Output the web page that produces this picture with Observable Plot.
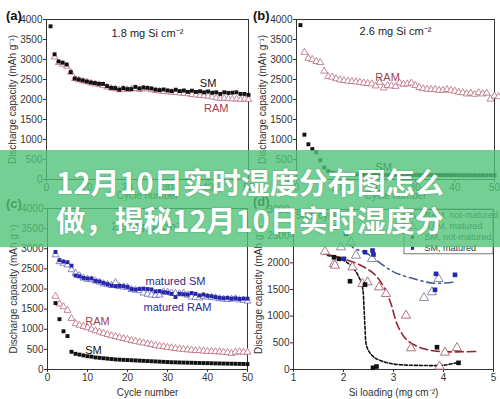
<!DOCTYPE html>
<html>
<head>
<meta charset="utf-8">
<script src="https://cdn.jsdelivr.net/npm/d3@7"></script>
<script src="https://cdn.jsdelivr.net/npm/@observablehq/plot@0.6"></script>
<style>
  html, body { margin: 0; padding: 0; background: #fff; }
  #wrap { position: relative; width: 500px; height: 399px; overflow: hidden; background: #fff; }
  .panel { position: absolute; }
  .tag { position: absolute; font: bold 13px "Liberation Sans", Arial, sans-serif; color: #111; }
  #banner { position: absolute; left: 0; top: 150px; width: 500px; height: 97px;
    background: rgba(80,195,120,0.8); color: #fff; text-align: center;
    font-family: "Noto Sans CJK SC", sans-serif; font-weight: 700; font-size: 29px; line-height: 38px;
    padding-top: 12px; box-sizing: border-box; text-shadow: 0 0 2px rgba(0,0,0,0.25); }
</style>
</head>
<body>
<div id="wrap"></div>
<script>
// ---------- data ----------
const yLabel = "Discharge capacity (mAh g⁻¹)";
const cycleTicks = [0, 10, 20, 30, 40, 50];
const capTicks = [0, 500, 1000, 1500, 2000, 2500, 3000, 3500, 4000];

// panel a (1.8 mg Si cm-2), SM from cycle 1, RAM from cycle 2
const aSM = [3830, 3130, 2950, 2920, 2875, 2685, 2525, 2500, 2475, 2450, 2425, 2410, 2390, 2390, 2335,
  2290, 2285, 2245, 2285, 2260, 2260, 2315, 2275, 2300, 2290, 2275, 2245, 2235, 2250, 2225,
  2210, 2245, 2210, 2225, 2190, 2220, 2190, 2205, 2180, 2200, 2170, 2180, 2140, 2180, 2165,
  2170, 2180, 2140, 2140, 2115];
const aRAM = [3060, 2920, 2880, 2830, 2680, 2520, 2490, 2460, 2440, 2410, 2390, 2370, 2350, 2310,
  2280, 2270, 2240, 2260, 2250, 2260, 2270, 2250, 2270, 2260, 2240, 2220, 2210, 2200, 2190,
  2180, 2170, 2160, 2150, 2140, 2120, 2110, 2100, 2090, 2080, 2060, 2040, 2020, 2030, 2020,
  2010, 2010, 2000, 2010, 2000];

// panel b (2.6 mg Si cm-2)
const bSM = [3860, 1120, 880, 760, 680, 480, 300, 210, 170, 150, 140, 135, 130, 130, 125,
  125, 120, 120, 120, 118, 118, 116, 116, 115, 115, 114, 114, 113, 113, 112,
  112, 112, 111, 111, 110, 110, 110, 110, 109, 109, 108, 108, 108, 108, 107,
  107, 107, 106, 106, 106];
const bRAM = [3180, 3030, 3000, 2950, 2925, 2710, 2575, 2560, 2520, 2490, 2475, 2460, 2450, 2440,
  2430, 2410, 2400, 2390, 2340, 2430, 2290, 2350, 2340, 2330, 2420, 2380, 2390, 2410, 2350,
  2300, 2270, 2260, 2250, 2250, 2230, 2230, 2250, 2230, 2210, 2180, 2170, 2140, 2160, 2130,
  2170, 2140, 2160, 2010, 2090, 2070];

// panel c (cycles from 2)
const cMatSM = [2920, 2715, 2680, 2665, 2580, 2335, 2315, 2275, 2260, 2260, 2200, 2185, 2150, 2120,
  2085, 2070, 2075, 2070, 2050, 2000, 1985, 2000, 2010, 2000, 1990, 1940, 1950, 1920, 1910,
  1880, 1800, 1880, 1870, 1860, 1900, 1880, 1840, 1860, 1830, 1820, 1800, 1780, 1770, 1780,
  1760, 1770, 1750, 1760, 1760];
const cMatRAM = [2850, 2680, 2640, 2600, 2480, 2390, 2330, 2270, 2240, 2230, 2200, 2170, 2130, 2110,
  2090, 2160, 2060, 2050, 2040, 1990, 1970, 1960, 1900, 1870, 1850, 1840, 1850, 1930, 1920,
  1900, 1890, 1880, 1900, 1850, 1800, 1790, 1780, 1820, 1800, 1790, 1780, 1760, 1750, 1740,
  1750, 1760, 1730, 1720, 1700];
const cRAM = [1820, 1630, 1560, 1470, 1270, 1140, 1100, 1070, 1040, 1000, 960, 930, 900, 870,
  840, 820, 790, 770, 750, 720, 700, 680, 660, 640, 620, 600, 580, 570, 550,
  540, 520, 510, 500, 490, 480, 470, 470, 460, 450, 450, 440, 440, 430, 420,
  400, 430, 440, 430, 430];
const cSM = [1650, 1250, 950, 830, 440, 390, 370, 350, 330, 320, 300, 290, 280, 270,
  260, 250, 245, 240, 235, 230, 225, 220, 215, 210, 205, 200, 195, 190, 185,
  180, 178, 175, 172, 170, 168, 165, 162, 160, 158, 155, 152, 150, 148, 146,
  144, 142, 140, 138, 135];

// panel d: Si loading vs capacity
const dRAMnot = [[1.63,2212],[1.81,1981],[1.83,1950],[2.18,1918],[2.38,1606],[2.48,1637],[2.71,1543],
  [2.85,1419],[3.25,1012],[3.35,400],[4.03,319],[4.27,406],[3.92,56]];
const dRAMmat = [[2.15,2387],[1.95,2293],[2.25,2137],[2.57,2075],[3.61,1344],[3.77,1450],[3.9,1700]];
const dSMnot = [[1.81,2106],[1.91,2075],[2.13,1655],[2.43,1593],[2.59,32],[2.66,56],[3.87,418],[4.3,125]];
const dSMmat = [[1.83,2668],[2.05,2543],[2.01,2075],[2.43,2200],[2.58,2231],[2.6,2156],[3.85,1793],[4.23,1775],[3.83,1494]];
const fitSMnot = [[1.68,2140],[1.95,2075],[2.18,1918],[2.31,1730],[2.38,1543],[2.41,1168],[2.43,793],
  [2.47,418],[2.61,231],[2.95,112],[3.61,75],[4.01,81],[4.31,137]];
const fitRAMnot = [[1.61,2169],[2.01,2075],[2.35,1949],[2.61,1793],[2.81,1543],[2.95,1231],[3.08,830],
  [3.28,544],[3.61,388],[3.95,337],[4.65,337]];
const fitSMmat = [[2.1,2400],[2.18,2293],[2.48,2169],[2.98,1840],[3.41,1700],[3.81,1618],[4.21,1637]];
const legendItems = ["RAM, not-matured", "RAM, matured", "SM, not-matured", "SM, matured"];
const legendY = [2887, 2686, 2480, 2274];

// ---------- helpers ----------
const FONT = "Liberation Sans, Arial, sans-serif";
const toPts = (arr, start) => arr.map((v, i) => ({cycle: i + start, v}));
const pairs = arr => arr.map(([x, y]) => ({x, y}));
const wrap = document.getElementById("wrap");
const fmt = d3.format("d");

function place(svg, left, top) {
  const d = document.createElement("div");
  d.className = "panel";
  d.style.left = left + "px"; d.style.top = top + "px";
  d.appendChild(svg);
  wrap.appendChild(d);
}
function tag(text, left, top) {
  const t = document.createElement("div");
  t.className = "tag"; t.textContent = text;
  t.style.left = left + "px"; t.style.top = top + "px";
  wrap.appendChild(t);
}
function axes(xTicks, xLabel, yTicks, xOff, yOff) {
  return [
    Plot.frame({stroke: "#333", strokeWidth: 1}),
    Plot.axisX({ticks: xTicks, tickFormat: fmt, tickSize: 3, tickPadding: 1, fontSize: 10, fill: "#333",
      label: xLabel, labelAnchor: "center", labelArrow: "none", labelOffset: xOff}),
    Plot.axisY({ticks: yTicks, tickFormat: fmt, tickSize: 3, tickPadding: 1, fontSize: 10, fill: "#333",
      label: yLabel, labelAnchor: "center", labelArrow: "none", labelOffset: yOff})
  ];
}
const common = {style: {fontFamily: FONT, fontSize: "10px", color: "#333", background: "transparent", overflow: "visible"}};

const SMc = "#111", RAMc = "#b86a7c", BLUE = "#2626a8", RED = "#9a2030";
const RAMd = "#a05060", RAMdm = "#707088";

// panel a
place(Plot.plot({
  ...common, width: 250, height: 200, marginLeft: 46, marginRight: 2, marginTop: 19, marginBottom: 21,
  x: {domain: [0, 50]}, y: {domain: [0, 4000]},
  marks: [
    ...axes(cycleTicks, "Cycle number", capTicks, 19, 38),
    Plot.dot(toPts(aRAM, 2), {x: "cycle", y: "v", symbol: "triangle", r: 2.4, stroke: RAMc, strokeWidth: 0.8, fill: "white"}),
    Plot.dot(toPts(aSM, 1), {x: "cycle", y: "v", symbol: "square", r: 2.2, fill: SMc}),
    Plot.text(["1.8 mg Si cm⁻²"], {x: 25, y: 3650, fontSize: 11, fill: "#222"}),
    Plot.text(["SM"], {x: 40, y: 2400, fontSize: 11, fill: "#111"}),
    Plot.text(["RAM"], {x: 42, y: 1770, fontSize: 11, fill: "#a04050"})
  ]
}), 0, 0);
tag("(a)", 6, 8);

// panel b
place(Plot.plot({
  ...common, width: 250, height: 200, marginLeft: 46, marginRight: 6, marginTop: 19, marginBottom: 21,
  x: {domain: [0, 50]}, y: {domain: [0, 4000]},
  marks: [
    ...axes(cycleTicks, "Cycle number", capTicks, 19, 38),
    Plot.dot(toPts(bRAM, 2), {x: "cycle", y: "v", symbol: "triangle", r: 2.6, stroke: RAMc, strokeWidth: 0.8, fill: "white"}),
    Plot.dot(toPts(bSM, 1), {x: "cycle", y: "v", symbol: "square", r: 2.2, fill: SMc}),
    Plot.text(["2.6 mg Si cm⁻²"], {x: 25, y: 3700, fontSize: 11, fill: "#222"}),
    Plot.text(["RAM"], {x: 23, y: 2550, fontSize: 11, fill: "#a04050"}),
    Plot.text(["SM"], {x: 22, y: 300, fontSize: 11, fill: "#111"})
  ]
}), 250, 0);
tag("(b)", 253, 8);

// panel c
place(Plot.plot({
  ...common, width: 250, height: 199, marginLeft: 47, marginRight: 3, marginTop: 8, marginBottom: 30,
  x: {domain: [0, 50]}, y: {domain: [0, 4000]},
  marks: [
    ...axes(cycleTicks, "Cycle number", capTicks, 26, 38),
    Plot.dot(toPts(cRAM, 2), {x: "cycle", y: "v", symbol: "triangle", r: 2.6, stroke: RAMc, strokeWidth: 0.8, fill: "white"}),
    Plot.dot(toPts(cSM, 2), {x: "cycle", y: "v", symbol: "square", r: 2.2, fill: SMc}),
    Plot.dot(toPts(cMatRAM, 2), {x: "cycle", y: "v", symbol: "triangle", r: 2.6, stroke: "#6b6bb8", strokeWidth: 0.8, fill: "white"}),
    Plot.dot(toPts(cMatSM, 2), {x: "cycle", y: "v", symbol: "square", r: 2.2, fill: BLUE}),
    Plot.text(["2.6 mg Si cm⁻²"], {x: 25, y: 3550, fontSize: 11, fill: "#222"}),
    Plot.text(["matured SM"], {x: 32, y: 2180, fontSize: 11, fill: "#2a2a90"}),
    Plot.text(["matured RAM"], {x: 32.5, y: 1550, fontSize: 11, fill: "#2a2a90"}),
    Plot.text(["RAM"], {x: 12.5, y: 1200, fontSize: 11, fill: "#a04050"}),
    Plot.text(["SM"], {x: 11.5, y: 470, fontSize: 11, fill: "#111"})
  ]
}), 0, 200);
tag("(c)", 6, 196);

// panel d
place(Plot.plot({
  ...common, width: 250, height: 199, marginLeft: 43, marginRight: 7, marginTop: 9, marginBottom: 30,
  x: {domain: [1, 5]}, y: {domain: [0, 3000]},
  marks: [
    ...axes([1, 2, 3, 4, 5], "Si loading (mg cm⁻²)", [0, 500, 1000, 1500, 2000, 2500, 3000], 26, 39),
    Plot.line(pairs(fitSMnot), {x: "x", y: "y", curve: "catmull-rom", stroke: "#111", strokeWidth: 1.6, strokeDasharray: "3,2"}),
    Plot.line(pairs(fitRAMnot), {x: "x", y: "y", curve: "catmull-rom", stroke: RED, strokeWidth: 1.6, strokeDasharray: "8,4"}),
    Plot.line(pairs(fitSMmat), {x: "x", y: "y", curve: "catmull-rom", stroke: "#3d5b95", strokeWidth: 1.6, strokeDasharray: "8,4,2,4"}),
    Plot.dot(pairs(dRAMnot), {x: "x", y: "y", symbol: "triangle", r: 3.4, stroke: RAMd, strokeWidth: 0.8, fill: "white"}),
    Plot.dot(pairs(dRAMmat), {x: "x", y: "y", symbol: "triangle", r: 3.4, stroke: RAMdm, strokeWidth: 0.8, fill: "white"}),
    Plot.dot(pairs(dSMnot), {x: "x", y: "y", symbol: "square", r: 2.6, fill: SMc}),
    Plot.dot(pairs(dSMmat), {x: "x", y: "y", symbol: "square", r: 2.6, fill: BLUE}),
    Plot.text(["50th cycle"], {x: 1.5, y: 2880, fontSize: 10, fill: "#222"}),
    Plot.rect([0], {x1: 3.22, x2: 5, y1: 2160, y2: 3000, stroke: "#555", strokeWidth: 0.8, fill: "none"}),
    Plot.dot([0, 1], {x: 3.38, y: (d) => legendY[d], symbol: "triangle", r: 2.8, stroke: (d) => [RAMd, RAMdm][d], strokeWidth: 0.8, fill: "white"}),
    Plot.dot([2], {x: 3.38, y: legendY[2], symbol: "square", r: 1.8, fill: SMc}),
    Plot.dot([3], {x: 3.38, y: legendY[3], symbol: "square", r: 1.8, fill: BLUE}),
    Plot.text(legendItems, {x: 3.62, y: (d, i) => legendY[i], textAnchor: "start", fontSize: 9, fill: "#333"})
  ]
}), 250, 200);
tag("(d)", 253, 194);

// banner overlay
const banner = document.createElement("div");
banner.id = "banner";
banner.innerHTML = "12月10日实时湿度分布图怎么<br>做，揭秘12月10日实时湿度分";
wrap.appendChild(banner);
</script>
</body>
</html>
